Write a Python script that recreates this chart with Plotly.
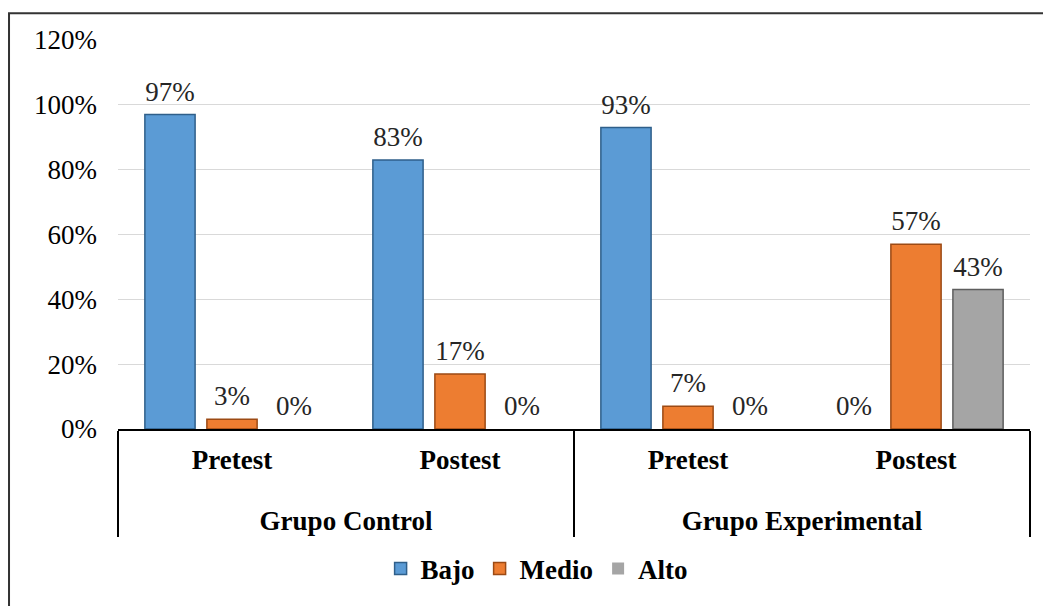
import plotly.graph_objects as go

grupos = ["Grupo Control", "Grupo Control", "Grupo Experimental", "Grupo Experimental"]
momentos = ["Pretest", "Postest", "Pretest", "Postest"]
series = ["Bajo", "Medio", "Alto"]
bajo = [0.97, 0.83, 0.93, 0.00]
medio = [0.03, 0.17, 0.07, 0.57]
alto = [0.00, 0.00, 0.00, 0.43]
y_ticks = [0, 0.2, 0.4, 0.6, 0.8, 1.0, 1.2]

# outer labels get an empty first line so they sit lower, as in the original
grupos_lbl = ["<br>" + g for g in grupos]

colors = {"Bajo": "#5B9BD5", "Medio": "#ED7D31", "Alto": "#A5A5A5"}
lines = {"Bajo": "#2F5F8A", "Medio": "#9C4A14", "Alto": "#5E5E5E"}
FONT = "Liberation Serif, Times New Roman, serif"
FS = 27

fig = go.Figure()
for name, vals in zip(series, [bajo, medio, alto]):
    fig.add_trace(go.Bar(
        name=name,
        x=[grupos_lbl, momentos],
        y=vals,
        offsetgroup=name,
        marker=dict(color=colors[name],
                    line=dict(color=lines[name], width=[1.5 if v > 0 else 0 for v in vals])),
    ))
for name, vals in zip(series, [bajo, medio, alto]):
    fig.add_trace(go.Scatter(
        name=name + " etiqueta",
        x=[grupos_lbl, momentos],
        y=vals,
        offsetgroup=name,
        mode="markers+text",
        marker=dict(size=10, opacity=0),
        text=[f"{round(v*100)}%" for v in vals],
        textposition="top center",
        textfont=dict(family=FONT, size=FS, color="#262626"),
        showlegend=False, hoverinfo="skip",
        cliponaxis=False,
    ))

fig.update_layout(
    width=1043, height=606,
    margin=dict(l=118, r=13, t=40, b=174),
    paper_bgcolor="white", plot_bgcolor="white",
    barmode="group", bargap=0.184, bargroupgap=0.19,
    scattermode="group", scattergap=0.184,
    font=dict(family=FONT, size=FS, color="black"),
    showlegend=True,
    legend=dict(orientation="h", x=0.459, xanchor="center", y=-0.36, yanchor="middle",
                font=dict(family=FONT, size=FS, color="black", weight="bold"),
                itemwidth=30, traceorder="normal"),
    xaxis=dict(
        type="multicategory", automargin=False,
        showline=True, linecolor="black", linewidth=1.5,
        showdividers=True, dividercolor="black", dividerwidth=1.5,
        tickfont=dict(family=FONT, size=FS, color="black", weight="bold"),
        ticks="", ticklabelstandoff=6,
    ),
    yaxis=dict(
        range=[0, 1.2], tickvals=y_ticks, tickformat=".0%", automargin=False,
        showgrid=True, gridcolor="#D9D9D9", gridwidth=1,
        zeroline=False, showline=False, ticks="",
        tickfont=dict(family=FONT, size=FS, color="black"),
        ticklabelstandoff=20,
    ),
    shapes=[dict(type="rect", xref="paper", yref="paper",
                 x0=-0.1195, x1=1.05, y0=-0.6, y1=1.0689,
                 line=dict(color="#333333", width=2), fillcolor="rgba(0,0,0,0)", layer="below")],
)

fig.write_html("out.html")
